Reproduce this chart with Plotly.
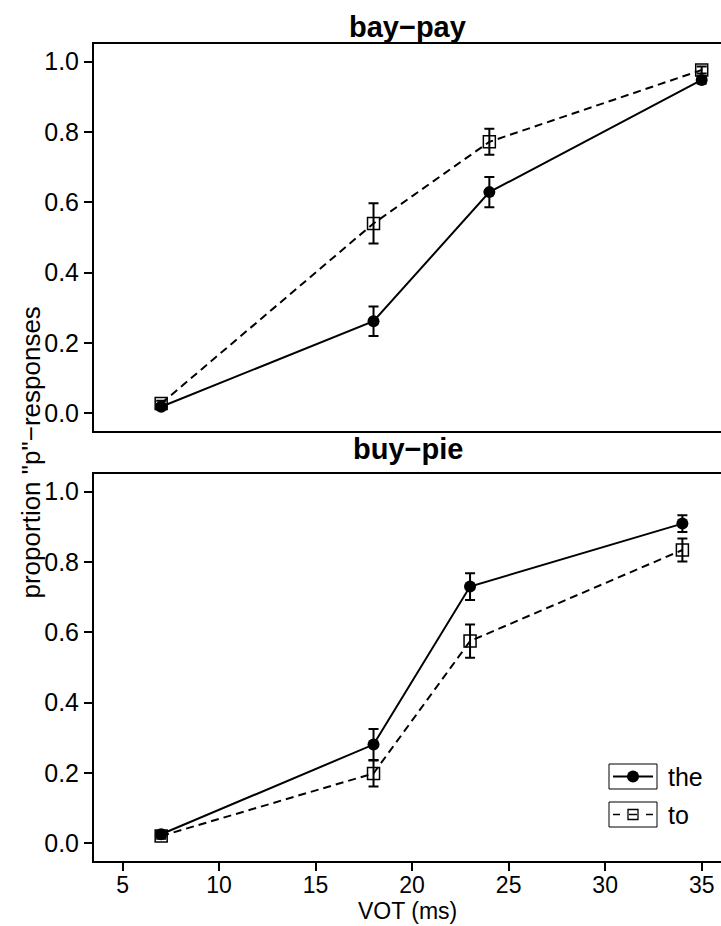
import plotly.graph_objects as go

# Mean proportion of "p" responses by VOT step, with standard errors
vot_bay = [7, 18, 24, 35]
the_bay = [0.019, 0.262, 0.629, 0.948]
the_bay_se = [0.008, 0.042, 0.043, 0.010]
to_bay = [0.028, 0.540, 0.772, 0.976]
to_bay_se = [0.008, 0.057, 0.037, 0.010]

vot_buy = [7, 18, 23, 34]
the_buy = [0.026, 0.281, 0.730, 0.909]
the_buy_se = [0.008, 0.044, 0.038, 0.024]
to_buy = [0.021, 0.199, 0.575, 0.834]
to_buy_se = [0.008, 0.037, 0.047, 0.033]

panel_titles = ["bay\u2212pay", "buy\u2212pie"]
series_names = ["the", "to"]
y_ticks = [0.0, 0.2, 0.4, 0.6, 0.8, 1.0]
x_ticks = [5, 10, 15, 20, 25, 30, 35]

W, H = 721, 926
ML, MR, MT, MB = 94, 0, 44, 65
plot_h = H - MT - MB
gap_px = 43
panel_h = (plot_h - gap_px) / 2
top_dom = [(panel_h + gap_px) / plot_h, 1.0]
bot_dom = [0.0, panel_h / plot_h]

FONT = "Liberation Sans, Arial, Helvetica, sans-serif"
BLACK = "#000000"
FS_TICK = 25
FS_XTICK = 23
FS_LAB = 26
FS_XLAB = 23
FS_TITLE = 29
FS_KEY = 25

fig = go.Figure()


def add_series(x, y, se, xa, ya, solid):
    fig.add_trace(go.Scatter(
        x=x, y=y, xaxis=xa, yaxis=ya, mode="lines+markers",
        line=dict(color=BLACK, width=2, dash="solid" if solid else "8px,5px"),
        marker=dict(
            symbol="circle" if solid else "square-open",
            size=12, color=BLACK,
            line=dict(color=BLACK, width=0 if solid else 1.5),
        ),
        error_y=dict(type="data", array=se, visible=True,
                     color=BLACK, thickness=2, width=5),
        showlegend=False,
    ))


add_series(vot_bay, to_bay, to_bay_se, "x", "y", False)
add_series(vot_bay, the_bay, the_bay_se, "x", "y", True)
add_series(vot_buy, to_buy, to_buy_se, "x2", "y2", False)
add_series(vot_buy, the_buy, the_buy_se, "x2", "y2", True)

x_range = [3.52, 36.0]
y_range = [-0.05, 1.05]

common_x = dict(range=x_range, showgrid=False, zeroline=False,
                showline=True, linecolor=BLACK, linewidth=2, mirror=True)
common_y = dict(range=y_range, showgrid=False, zeroline=False,
                showline=True, linecolor=BLACK, linewidth=2,
                ticks="outside", ticklen=8, tickwidth=2, tickcolor=BLACK,
                tickvals=y_ticks, tickformat=".1f", ticklabelstandoff=0,
                tickfont=dict(family=FONT, size=FS_TICK, color=BLACK))

fig.update_layout(
    width=W, height=H,
    margin=dict(l=ML, r=MR, t=MT, b=MB),
    paper_bgcolor="white", plot_bgcolor="white",
    font=dict(family=FONT, color=BLACK),
    xaxis=dict(common_x, domain=[0, 1], anchor="y",
               showticklabels=False, ticks=""),
    yaxis=dict(common_y, domain=top_dom, anchor="x"),
    xaxis2=dict(common_x, domain=[0, 1], anchor="y2",
                ticks="outside", ticklen=8, tickwidth=2, tickcolor=BLACK,
                tickvals=x_ticks, ticklabelstandoff=-6,
                tickfont=dict(family=FONT, size=FS_XTICK, color=BLACK)),
    yaxis2=dict(common_y, domain=bot_dom, anchor="x2"),
    # pixel-space overlay on the lower panel, used for the boxed key
    xaxis3=dict(overlaying="x2", anchor="y3", range=[ML, W], visible=False,
                fixedrange=True),
    yaxis3=dict(overlaying="y2", anchor="x3",
                range=[H - MB, H - MB - panel_h], visible=False,
                fixedrange=True),
)

# panel titles
for title, dom, shift in zip(panel_titles, [top_dom, bot_dom], [17, 25]):
    fig.add_annotation(text="<b>%s</b>" % title, xref="paper", yref="paper",
                       x=0.5, y=dom[1], yanchor="middle", yshift=shift,
                       showarrow=False,
                       font=dict(family=FONT, size=FS_TITLE, color=BLACK))

# x-axis title
fig.add_annotation(text="VOT (ms)", xref="paper", yref="paper",
                   x=0.5, y=0, yanchor="bottom", yshift=-(MB - 1),
                   borderpad=0, showarrow=False,
                   font=dict(family=FONT, size=FS_XLAB, color=BLACK))

# shared y-axis title
fig.add_annotation(text="proportion \"p\"\u2212responses", xref="paper",
                   yref="paper", x=0, xshift=-64, xanchor="center",
                   y=0.5, yanchor="middle", textangle=-90,
                   showarrow=False,
                   font=dict(family=FONT, size=FS_LAB, color=BLACK))

# boxed key in the lower panel
key_x0, key_x1 = 609, 657
key_rows = [(764, 789), (802, 827)]
for (y0, y1), name in zip(key_rows, series_names):
    fig.add_shape(type="rect", xref="x3", yref="y3",
                  x0=key_x0, x1=key_x1, y0=y0, y1=y1,
                  line=dict(color=BLACK, width=1), fillcolor="rgba(0,0,0,0)")
    fig.add_annotation(text=name, xref="x3", yref="y3", x=666,
                       y=(y0 + y1) / 2, xanchor="left", yanchor="middle",
                       showarrow=False,
                       font=dict(family=FONT, size=FS_KEY, color=BLACK))

cy0 = sum(key_rows[0]) / 2
cy1 = sum(key_rows[1]) / 2
xc = (key_x0 + key_x1) / 2
fig.add_trace(go.Scatter(x=[key_x0 + 4, key_x1 - 4], y=[cy0, cy0],
                         xaxis="x3", yaxis="y3", mode="lines",
                         line=dict(color=BLACK, width=2), showlegend=False,
                         hoverinfo="skip"))
fig.add_trace(go.Scatter(x=[xc], y=[cy0], xaxis="x3", yaxis="y3",
                         mode="markers", marker=dict(symbol="circle", size=12,
                                                     color=BLACK),
                         showlegend=False, hoverinfo="skip"))
for xa, xb in [(key_x0 + 4, key_x0 + 11), (key_x1 - 11, key_x1 - 4),
               (xc - 4, xc + 4)]:
    fig.add_trace(go.Scatter(x=[xa, xb], y=[cy1, cy1], xaxis="x3",
                             yaxis="y3", mode="lines",
                             line=dict(color=BLACK, width=1.5),
                             showlegend=False, hoverinfo="skip"))
fig.add_trace(go.Scatter(x=[xc], y=[cy1], xaxis="x3", yaxis="y3",
                         mode="markers",
                         marker=dict(symbol="square-open", size=10,
                                     color=BLACK, line=dict(width=1.3)),
                         showlegend=False, hoverinfo="skip"))

fig.write_html("out.html")
